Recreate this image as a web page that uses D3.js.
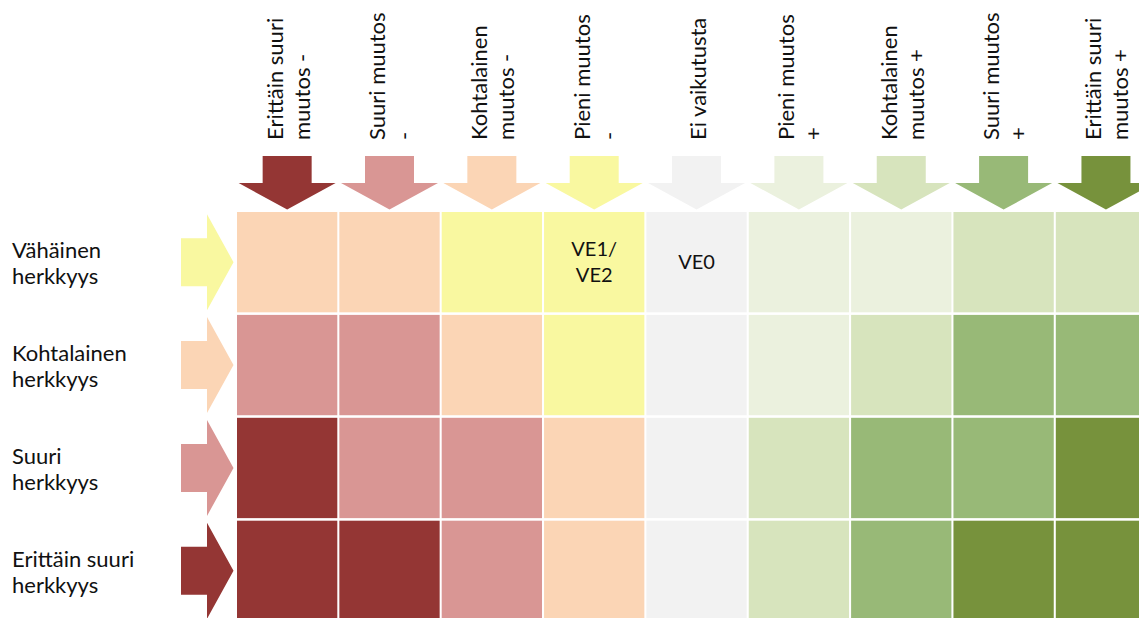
<!DOCTYPE html>
<html>
<head>
<meta charset="utf-8">
<script src="https://cdnjs.cloudflare.com/ajax/libs/d3/7.8.5/d3.min.js"></script>
<style>
  body { margin: 0; background: #fff; }
  svg text { font-family: Lato, "Open Sans", sans-serif; fill: #111; }
</style>
</head>
<body>
<svg id="chart" width="1139" height="618"></svg>
<script>
// column headers (change), row headers (sensitivity)
var changes = [
  ["Erittäin suuri", "muutos -"],
  ["Suuri muutos", "-"],
  ["Kohtalainen", "muutos -"],
  ["Pieni muutos", "-"],
  ["Ei vaikutusta"],
  ["Pieni muutos", "+"],
  ["Kohtalainen", "muutos +"],
  ["Suuri muutos", "+"],
  ["Erittäin suuri", "muutos +"]
];
var changeLevels = [-4, -3, -2, -1, 0, 1, 2, 3, 4];

var sensitivities = [
  ["Vähäinen", "herkkyys"],
  ["Kohtalainen", "herkkyys"],
  ["Suuri", "herkkyys"],
  ["Erittäin suuri", "herkkyys"]
];
var sensitivityLevels = [-1, -2, -3, -4];

// impact level of each cell, row by row
var impact = [
  [-2, -2, -1, -1, 0, 1, 1, 2, 2],
  [-3, -3, -2, -1, 0, 1, 2, 3, 3],
  [-4, -3, -3, -2, 0, 2, 3, 3, 4],
  [-4, -4, -3, -2, 0, 2, 3, 4, 4]
];

var cellLabels = [
  {row: 0, col: 3, lines: ["VE1/", "VE2"]},
  {row: 0, col: 4, lines: ["VE0"]}
];

var svg = d3.select("#chart");

var color = d3.scaleOrdinal()
  .domain([-4, -3, -2, -1, 0, 1, 2, 3, 4])
  .range(["#943634", "#D99694", "#FBD5B5", "#F9F8A0", "#F2F2F2",
          "#EBF1DE", "#D7E4BD", "#98B977", "#77923C"]);

var step = 102.35, rowStep = 102.9;
var x = d3.scaleBand().domain(d3.range(changes.length))
  .range([237, 237 + step * (9 - 0.02)]).paddingInner(0.02).paddingOuter(0);
var y = d3.scaleBand().domain(d3.range(sensitivities.length))
  .range([212, 212 + rowStep * (4 - 0.025)]).paddingInner(0.025).paddingOuter(0);

var cells = [];
impact.forEach(function(r, i) {
  r.forEach(function(v, j) { cells.push({row: i, col: j, v: v}); });
});

svg.append("g").selectAll("rect")
  .data(cells)
  .enter().append("rect")
    .attr("x", function(d) { return x(d.col); })
    .attr("y", function(d) { return y(d.row); })
    .attr("width", x.bandwidth())
    .attr("height", y.bandwidth())
    .attr("fill", function(d) { return color(d.v); });

// down arrows above columns
var downArrow = function(j) {
  var cx = x(j) + x.bandwidth() / 2;
  return [[cx - 24.5, 156], [cx + 24.5, 156], [cx + 24.5, 183], [cx + 48.5, 183],
          [cx, 209.5], [cx - 48.5, 183], [cx - 24.5, 183]];
};
svg.append("g").selectAll("polygon")
  .data(changeLevels)
  .enter().append("polygon")
    .attr("points", function(d, j) { return downArrow(j).join(" "); })
    .attr("fill", function(d) { return color(d); });

// right arrows left of rows
var rightArrow = function(i) {
  var cy = y(i) + y.bandwidth() / 2;
  return [[181, cy - 24], [207, cy - 24], [207, cy - 48], [233.5, cy],
          [207, cy + 48], [207, cy + 24], [181, cy + 24]];
};
svg.append("g").selectAll("polygon")
  .data(sensitivityLevels)
  .enter().append("polygon")
    .attr("points", function(d, i) { return rightArrow(i).join(" "); })
    .attr("fill", function(d) { return color(d); });

// column header text, rotated
svg.append("g").selectAll("text")
  .data(changes)
  .enter().append("text")
    .attr("font-size", 22)
    .attr("text-anchor", "start")
    .attr("transform", function(d, j) {
      var cx = x(j) + x.bandwidth() / 2;
      return "translate(" + (cx + 9 - (d.length - 1) * 13.5) + ",140) rotate(-90)";
    })
    .selectAll("tspan")
    .data(function(d) { return d; })
    .enter().append("tspan")
      .attr("x", 0)
      .attr("y", function(d, k) { return k * 27; })
      .text(function(d) { return d; });

// row header text
svg.append("g").selectAll("text")
  .data(sensitivities)
  .enter().append("text")
    .attr("font-size", 22)
    .selectAll("tspan")
    .data(function(d, i) { return d.map(function(t) { return {t: t, i: i}; }); })
    .enter().append("tspan")
      .attr("x", 12)
      .attr("y", function(d, k) { return y(d.i) + y.bandwidth() / 2 - 4 + k * 26; })
      .text(function(d) { return d.t; });

// labels inside cells
svg.append("g").selectAll("text")
  .data(cellLabels)
  .enter().append("text")
    .attr("font-size", 20)
    .attr("text-anchor", "middle")
    .selectAll("tspan")
    .data(function(d) {
      return d.lines.map(function(t, k) { return {t: t, k: k, n: d.lines.length, d: d}; });
    })
    .enter().append("tspan")
      .attr("x", function(e) { return x(e.d.col) + x.bandwidth() / 2; })
      .attr("y", function(e) {
        return y(e.d.row) + y.bandwidth() / 2 + 7 + (e.k - (e.n - 1) / 2) * 26;
      })
      .text(function(e) { return e.t; });
</script>
</body>
</html>
